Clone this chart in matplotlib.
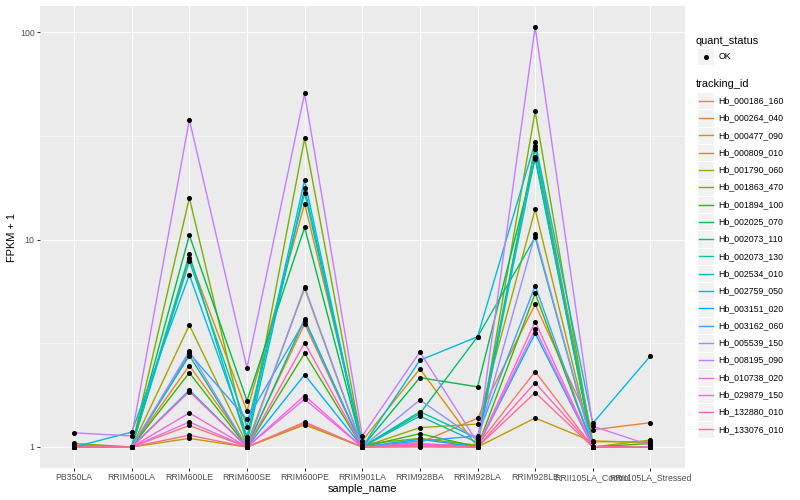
import numpy as np
import matplotlib
matplotlib.use("Agg")
import matplotlib.pyplot as plt
from matplotlib.patches import Rectangle
from matplotlib.ticker import FixedLocator, NullFormatter

plt.rcParams['font.family'] = ['Liberation Sans', 'DejaVu Sans']

sample_names = ["PB350LA", "RRIM600LA", "RRIM600LE", "RRIM600SE", "RRIM600PE",
                "RRIM901LA", "RRIM928BA", "RRIM928LA", "RRIM928LE",
                "RRII105LA_Control", "RRII105LA_Stressed"]

tracking_ids = ["Hb_000186_160", "Hb_000264_040", "Hb_000477_090", "Hb_000809_010",
                "Hb_001790_060", "Hb_001863_470", "Hb_001894_100", "Hb_002025_070",
                "Hb_002073_110", "Hb_002073_130", "Hb_002534_010", "Hb_002759_050",
                "Hb_003151_020", "Hb_003162_060", "Hb_005539_150", "Hb_008195_090",
                "Hb_010738_020", "Hb_029879_150", "Hb_132880_010", "Hb_133076_010"]

series_colors = ["#F8766D", "#EA8331", "#D89000", "#C09B00", "#A3A500", "#7CAE00",
                 "#39B600", "#00BB4E", "#00BF7D", "#00C1A3", "#00BFC4", "#00BAE0",
                 "#00B0F6", "#35A2FF", "#9590FF", "#C77CFF", "#E76BF3", "#FA62DB",
                 "#FF62BC", "#FF6C91"]

# FPKM + 1 per tracking_id (rows) and sample (columns)
fpkm_plus_one = [
    [1.00, 1.00, 1.27, 1.00, 1.30, 1.00, 1.03, 1.02, 2.31, 1.00, 1.00],
    [1.01, 1.00, 2.47, 1.02, 3.92, 1.00, 1.05, 1.375, 4.87, 1.21, 1.31],
    [1.00, 1.00, 8.17, 1.49, 14.9, 1.07, 2.38, 1.00, 28.4, 1.07, 1.05],
    [1.00, 1.00, 1.10, 1.00, 1.28, 1.00, 1.00, 1.00, 1.38, 1.06, 1.06],
    [1.02, 1.00, 3.87, 1.03, 5.82, 1.00, 1.24, 1.29, 14.0, 1.00, 1.08],
    [1.04, 1.00, 15.9, 1.08, 30.8, 1.03, 1.10, 1.02, 41.5, 1.00, 1.00],
    [1.00, 1.00, 2.28, 1.00, 2.83, 1.00, 1.16, 1.00, 5.50, 1.00, 1.04],
    [1.00, 1.00, 10.5, 1.67, 11.45, 1.00, 2.16, 1.95, 24.6, 1.00, 1.00],
    [1.00, 1.00, 2.76, 1.00, 4.14, 1.00, 1.45, 3.40, 10.25, 1.00, 1.00],
    [1.00, 1.00, 8.49, 1.05, 17.7, 1.00, 1.48, 1.10, 27.4, 1.00, 1.00],
    [1.00, 1.00, 7.88, 1.25, 16.8, 1.00, 1.41, 1.05, 25.1, 1.00, 1.00],
    [1.00, 1.18, 6.77, 1.12, 19.4, 1.00, 2.62, 3.40, 29.5, 1.30, 2.75],
    [1.00, 1.00, 1.88, 1.00, 2.23, 1.00, 1.09, 1.00, 3.53, 1.00, 1.00],
    [1.00, 1.00, 2.83, 1.36, 4.06, 1.00, 1.07, 1.13, 5.99, 1.00, 1.00],
    [1.00, 1.00, 2.90, 1.00, 5.92, 1.00, 1.685, 1.08, 10.6, 1.00, 1.00],
    [1.17, 1.13, 37.9, 2.41, 50.7, 1.13, 2.87, 1.05, 106.0, 1.26, 1.02],
    [1.00, 1.00, 1.32, 1.00, 1.70, 1.00, 1.03, 1.00, 3.70, 1.00, 1.00],
    [1.00, 1.00, 1.46, 1.00, 1.77, 1.00, 1.04, 1.00, 4.02, 1.00, 1.00],
    [1.00, 1.00, 1.85, 1.00, 3.18, 1.00, 1.02, 1.00, 2.04, 1.00, 1.00],
    [1.00, 1.00, 1.14, 1.00, 1.32, 1.00, 1.01, 1.00, 1.83, 1.00, 1.00],
]

y_breaks = [1, 10, 100]
y_labels = ["1", "10", "100"]

W, H = 800, 500
fig = plt.figure(figsize=(8, 5), dpi=100)
fig.patch.set_facecolor("white")

px = 0.72  # points per pixel at 100 dpi
L, R, T, B = 39.5, 685, 6, 468
ax = fig.add_axes([L / W, 1 - B / H, (R - L) / W, (B - T) / H])
ax.set_facecolor("#EBEBEB")

x = np.arange(len(sample_names))
for vals, col in zip(fpkm_plus_one, series_colors):
    ax.plot(x, vals, color=col, lw=1.0, zorder=3, solid_capstyle="butt")
for vals in fpkm_plus_one:
    ax.plot(x, vals, linestyle="none", marker="o", ms=2.6, color="black",
            mec="black", zorder=4)

ax.set_yscale("log")
allv = np.array(fpkm_plus_one)
lo, hi = np.log10(allv.min()), np.log10(allv.max())
pad = 0.05 * (hi - lo)
ax.set_ylim(10 ** (lo - pad), 10 ** (hi + pad))
ax.set_xlim(-0.6, len(sample_names) - 1 + 0.6)

ax.yaxis.set_major_locator(FixedLocator(y_breaks))
ax.set_yticklabels(y_labels)
ax.yaxis.set_minor_locator(FixedLocator([10 ** 0.5, 10 ** 1.5]))
ax.yaxis.set_minor_formatter(NullFormatter())
ax.set_xticks(x)
ax.set_xticklabels(sample_names)

ax.grid(True, which="major", color="white", lw=1.05 * px, zorder=1)
ax.grid(True, which="minor", axis="y", color="white", lw=0.55 * px, zorder=1)
ax.set_axisbelow(True)
for s in ax.spines.values():
    s.set_visible(False)

ax.tick_params(axis="both", which="major", length=2.75 * px, width=0.75,
               color="#333333", labelsize=8.8 * px, labelcolor="#4D4D4D", pad=2.2 * px)
ax.tick_params(axis="y", which="minor", length=0)

ax.set_xlabel("sample_name", fontsize=11 * px, color="black", labelpad=1.5)
ax.set_ylabel("FPKM + 1", fontsize=11 * px, color="black", labelpad=2)

# legend drawn in pixel coordinates
lg = fig.add_axes([0, 0, 1, 1])
lg.set_xlim(0, W)
lg.set_ylim(H, 0)
lg.axis("off")
lg.patch.set_alpha(0)

kx0, kw = 697, 17.3
lg.text(696, 40.7, "quant_status", fontsize=11 * px, va="center", ha="left")
lg.add_patch(Rectangle((kx0, 56.7 - kw / 2), kw, kw, facecolor="#F2F2F2",
                       edgecolor="white", lw=0.8))
lg.plot([kx0 + kw / 2], [56.7], marker="o", ms=2.6, color="black")
lg.text(kx0 + kw + 4, 56.7, "OK", fontsize=8.8 * px, va="center", ha="left")

lg.text(696, 84.3, "tracking_id", fontsize=11 * px, va="center", ha="left")
for i, (name, col) in enumerate(zip(tracking_ids, series_colors)):
    cy = 100.7 + i * 17.3
    lg.add_patch(Rectangle((kx0, cy - kw / 2), kw, kw, facecolor="#F2F2F2",
                           edgecolor="white", lw=0.8))
    lg.plot([kx0 + 1.7, kx0 + kw - 1.7], [cy, cy], color=col, lw=1.0)
    lg.text(kx0 + kw + 4, cy, name, fontsize=8.8 * px, va="center", ha="left")

fig.savefig("out.png", dpi=100)
